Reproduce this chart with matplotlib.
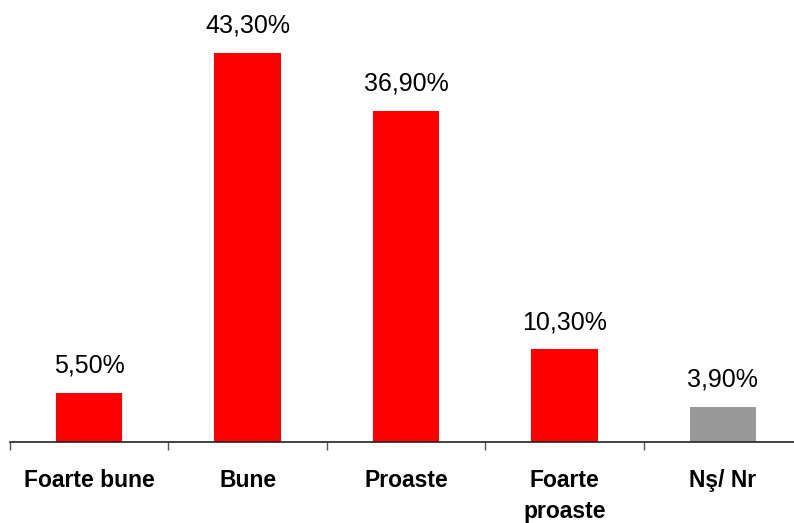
import numpy as np
import matplotlib
matplotlib.use('Agg')
import matplotlib.pyplot as plt

categories = ["Foarte bune", "Bune", "Proaste", "Foarte\nproaste", "Nş/ Nr"]
values = [5.5, 43.3, 36.9, 10.3, 3.9]
labels = ["5,50%", "43,30%", "36,90%", "10,30%", "3,90%"]
colors = ["#FF0000", "#FF0000", "#FF0000", "#FF0000", "#999999"]

plt.rcParams['font.family'] = ['Liberation Sans', 'DejaVu Sans']

fig = plt.figure(figsize=(7.94, 5.23), dpi=100)
ax = fig.add_axes([10 / 794, 81 / 523, 792 / 794, 442 / 523])

x = np.arange(len(categories))
ax.bar(x, values, width=0.42, color=colors)

for xi, v, lab in zip(x, values, labels):
    ax.annotate(lab, (xi, v), xytext=(0, 14.5), textcoords='offset points',
                ha='center', va='baseline', fontsize=18, color='black')

ax.set_xlim(-0.5, 4.5)
ax.set_ylim(0, 49.2)

for s in ['top', 'right', 'left']:
    ax.spines[s].set_visible(False)
ax.spines['bottom'].set_linewidth(1.2)
ax.spines['bottom'].set_color('#222222')

ax.set_yticks([])
ax.set_xticks(x)
ax.set_xticklabels(categories, fontsize=16.5, fontweight='bold', linespacing=1.45)
ax.tick_params(axis='x', which='major', length=0, pad=19.5)
ax.set_xticks(np.arange(-0.5, 5.0, 1.0), minor=True)
ax.tick_params(axis='x', which='minor', length=6, width=1, color='#555555')

fig.savefig('out.png', dpi=100)
